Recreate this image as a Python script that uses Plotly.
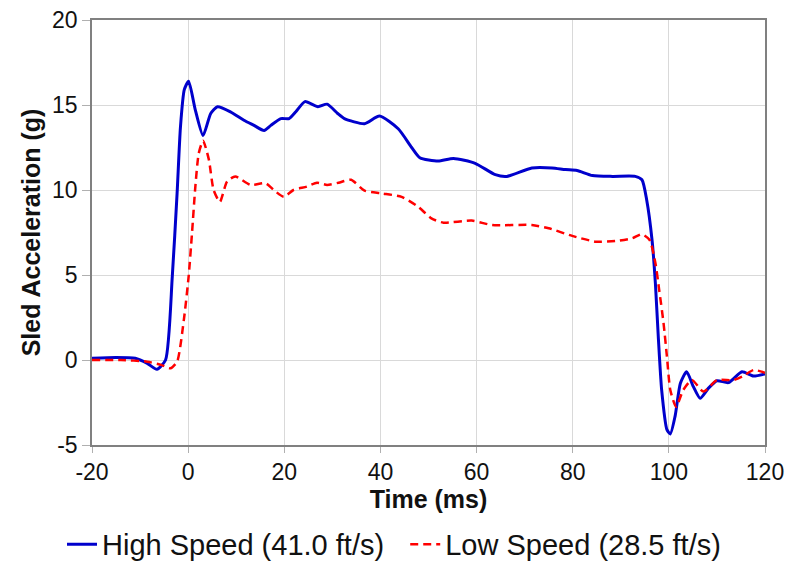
import plotly.graph_objects as go

high_t = [-20, -15, -11, -8.5, -6.5, -4.7, -3.3, -2.3, -1.6, -0.8, 0.1, 1.5, 3.1, 4.7, 6.1,
          8.8, 11.6, 13.7, 15.8, 17.2, 19.3, 21.0, 22.4, 24.3, 27.0, 28.9, 31.1, 32.5, 36.7,
          39.8, 43.7, 46.5, 48.2, 52.0, 55.2, 59.7, 63.9, 66.3, 71.5, 75.7, 78.5, 80.9, 84.1,
          88.3, 93.0, 94.4, 95.4, 96.5, 97.2, 97.8, 98.5, 99.6, 100.3, 101.3, 102.4, 103.7,
          105.1, 106.5, 108.2, 110.0, 112.4, 115.2, 117.6, 120]
high_v = [0.1, 0.15, 0.1, -0.2, -0.55, 0.0, 4.9, 9.8, 13.7, 15.9, 16.4, 14.7, 13.2, 14.5, 14.9,
          14.6, 14.1, 13.8, 13.5, 13.8, 14.2, 14.2, 14.6, 15.2, 14.9, 15.05, 14.5, 14.2, 13.9,
          14.35, 13.6, 12.5, 11.9, 11.7, 11.86, 11.57, 10.9, 10.8, 11.3, 11.3, 11.2, 11.15, 10.85,
          10.8, 10.8, 10.6, 9.4, 7.06, 4.5, 1.37, -1.76, -4.1, -4.35, -3.3, -1.37, -0.69,
          -1.57, -2.25, -1.67, -1.22, -1.33, -0.69, -0.94, -0.82]

low_t = [-20, -14, -8.5, -5.5, -3.7, -2.3, -0.9, 0.1, 0.8, 1.5, 2.2, 3.1, 4.3, 5.3, 6.6,
         8.1, 9.8, 13.0, 16.1, 17.8, 19.9, 21.9, 24.7, 26.8, 28.9, 31.3, 33.9, 36.7, 40.2,
         44.4, 47.9, 50.6, 53.1, 59.0, 63.2, 71.5, 75.0, 79.9, 84.8, 88.9, 92.4, 94.4, 96.0,
         97.2, 98.0, 98.9, 99.6, 100.3, 101.5, 103.0, 104.8, 107.2, 110.0, 113.4, 115.5,
         117.6, 120]
low_v = [0.0, 0.0, -0.1, -0.3, -0.49, -0.1, 2.35, 4.9, 7.45, 10.2, 12.15, 12.9, 11.8, 10.0, 9.3,
         10.5, 10.8, 10.3, 10.4, 10.0, 9.6, 10.0, 10.2, 10.43, 10.3, 10.43, 10.6, 9.96, 9.8,
         9.6, 9.0, 8.33, 8.08, 8.2, 7.94, 7.94, 7.75, 7.3, 6.96, 7.0, 7.16, 7.4, 7.06,
         5.7, 4.1, 2.16, 0.2, -1.76, -2.75, -1.76, -1.18, -1.86, -1.18, -1.18, -0.94,
         -0.59, -0.75]

x_ticks = [-20, 0, 20, 40, 60, 80, 100, 120]
x_labels = ["-20", "0", "20", "40", "60", "80", "100", "120"]
y_ticks = [-5, 0, 5, 10, 15, 20]
y_labels = ["-5", "0", "5", "10", "15", "20"]

FONT = "Liberation Sans, Arial, sans-serif"

fig = go.Figure()
fig.add_trace(go.Scatter(x=high_t, y=high_v, mode="lines",
                         name="High Speed (41.0 ft/s)\u00a0\u00a0",
                         line=dict(color="#0000CC", width=3, shape="spline", smoothing=0.6)))
fig.add_trace(go.Scatter(x=low_t, y=low_v, mode="lines", name="Low Speed (28.5 ft/s)",
                         line=dict(color="#FF0000", width=2.5, dash="8px,5px", shape="spline",
                                   smoothing=0.6)))

fig.update_layout(
    width=788, height=567,
    margin=dict(l=92, r=23, t=20, b=122, autoexpand=False),
    paper_bgcolor="white", plot_bgcolor="white",
    font=dict(family=FONT, size=23, color="#111111"),
    showlegend=True,
    legend=dict(orientation="h", xref="container", yref="container", x=0.5, xanchor="center",
                y=0.04, yanchor="middle", font=dict(size=29, family=FONT),
                itemwidth=30, tracegroupgap=0, bgcolor="rgba(0,0,0,0)"),
    xaxis=dict(range=[-20, 120], tickvals=x_ticks, ticktext=x_labels, showgrid=True,
               gridcolor="#D9D9D9", gridwidth=1, zeroline=False, showline=True,
               linecolor="#808080", linewidth=1.5, mirror=True, ticks="outside", ticklen=6,
               tickcolor="#B0B0B0", automargin=False,
               title=dict(text="<b>Time (ms)</b>", font=dict(size=25, family=FONT), standoff=6)),
    yaxis=dict(range=[-5, 20], tickvals=y_ticks, ticktext=y_labels, showgrid=True,
               gridcolor="#D9D9D9", gridwidth=1, zeroline=False, showline=True,
               linecolor="#808080", linewidth=1.5, mirror=True, ticks="outside", ticklen=8,
               tickcolor="#B0B0B0", automargin=False,
               title=dict(text="<b>Sled Acceleration (g)</b>", font=dict(size=25, family=FONT),
                          standoff=4)),
)

fig.write_html("out.html")
